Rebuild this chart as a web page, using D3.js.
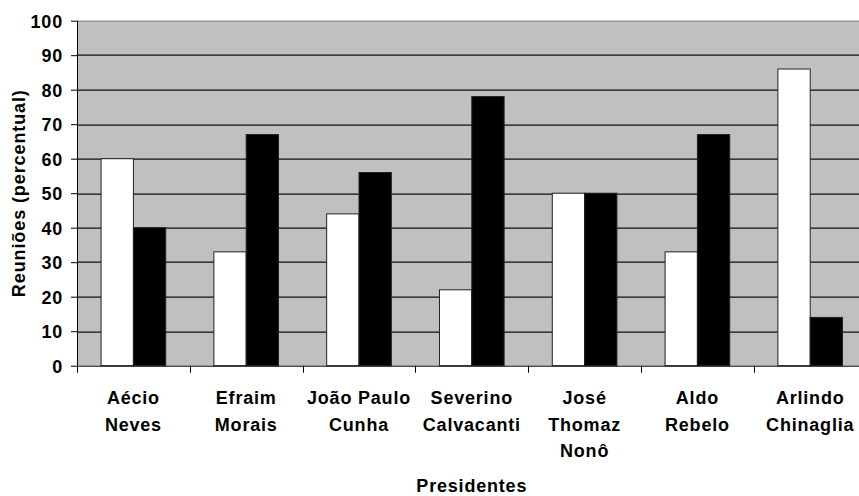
<!DOCTYPE html>
<html>
<head>
<meta charset="utf-8">
<script src="https://cdn.jsdelivr.net/npm/d3@7"></script>
<style>
  body { margin: 0; background: #fff; }
  svg { display: block; }
  text { font-family: "Liberation Sans", Arial, sans-serif; font-weight: bold; fill: #000; }
</style>
</head>
<body>
<svg width="859" height="496"></svg>
<script>
// reunioes por presidente, percentual

var categories = ["Aécio\nNeves", "Efraim\nMorais", "João Paulo\nCunha", "Severino\nCalvacanti",
                  "José\nThomaz\nNonô", "Aldo\nRebelo", "Arlindo\nChinaglia"];
var seriesWhite = [60, 33, 44, 22, 50, 33, 86];
var seriesBlack = [40, 67, 56, 78, 50, 67, 14];
var yTicks = [0, 10, 20, 30, 40, 50, 60, 70, 80, 90, 100];
var xTitle = "Presidentes";
var yTitle = "Reuniões (percentual)";

var svg = d3.select("svg"),
  margin = { top: 20.7, left: 77, bottom: 130.3 },
  width = 789.6,
  height = 496 - margin.top - margin.bottom,
  g = svg.append("g").attr("transform", "translate(" + margin.left + "," + margin.top + ")");

var data = categories.map(function (c, i) {
  return { name: c, white: seriesWhite[i], black: seriesBlack[i] };
});

var x = d3.scaleBand()
  .domain(categories)
  .range([0, width])
  .padding(0);

var xSub = d3.scaleBand()
  .domain(["white", "black"])
  .range([0, x.bandwidth()])
  .paddingInner(0)
  .paddingOuter(0.745);

var y = d3.scaleLinear()
  .domain([0, 100])
  .range([height, 0]);

// plot background
g.append("rect")
  .attr("width", width)
  .attr("height", height)
  .attr("fill", "#c0c0c0");

// gridlines
g.append("g")
  .selectAll("line")
  .data(yTicks.slice(1, -1))
  .enter().append("line")
  .attr("x1", 0)
  .attr("x2", width)
  .attr("y1", function (d) { return Math.round(y(d)) + 0.5; })
  .attr("y2", function (d) { return Math.round(y(d)) + 0.5; })
  .attr("stroke", "#111")
  .attr("stroke-width", 1.2);

// top border
g.append("line")
  .attr("x1", 0).attr("x2", width)
  .attr("y1", 0.5).attr("y2", 0.5)
  .attr("stroke", "#808080");

// bars
var groups = g.selectAll(".cat")
  .data(data)
  .enter().append("g")
  .attr("class", "cat")
  .attr("transform", function (d) { return "translate(" + x(d.name) + ",0)"; });

groups.selectAll("rect")
  .data(function (d) { return [{ key: "white", value: d.white }, { key: "black", value: d.black }]; })
  .enter().append("rect")
  .attr("x", function (d) { return xSub(d.key); })
  .attr("y", function (d) { return y(d.value); })
  .attr("width", xSub.bandwidth())
  .attr("height", function (d) { return height - y(d.value); })
  .attr("fill", function (d) { return d.key === "white" ? "#fff" : "#000"; })
  .attr("stroke", "#222")
  .attr("stroke-width", 1);

// y axis
var yAxis = g.append("g")
  .attr("class", "y axis")
  .call(d3.axisLeft(y).tickValues(yTicks).tickSize(6).tickPadding(8));
yAxis.select(".domain").attr("stroke", "#000").attr("d", "M0.5," + height + "V0");
yAxis.selectAll(".tick line").attr("stroke", "#000");
yAxis.selectAll(".tick text")
  .attr("font-size", 18)
  .attr("letter-spacing", "0.8px")
  .attr("dy", "0.36em");

// x axis
var xAxis = g.append("g")
  .attr("class", "x axis")
  .attr("transform", "translate(0," + height + ")");
xAxis.append("line")
  .attr("x1", 0).attr("x2", width)
  .attr("y1", 0.5).attr("y2", 0.5)
  .attr("stroke", "#000");
xAxis.selectAll(".xtick")
  .data(categories)
  .enter().append("line")
  .attr("x1", function (d) { return Math.round(x(d)) + 0.5; })
  .attr("x2", function (d) { return Math.round(x(d)) + 0.5; })
  .attr("y1", 0)
  .attr("y2", 7)
  .attr("stroke", "#000");

xAxis.selectAll(".label")
  .data(categories)
  .enter().append("text")
  .attr("class", "label")
  .attr("text-anchor", "middle")
  .attr("font-size", 18)
  .attr("letter-spacing", "0.8px")
  .attr("transform", function (d) { return "translate(" + (x(d) + x.bandwidth() / 2) + ",0)"; })
  .each(function (d) {
    var t = d3.select(this);
    d.split("\n").forEach(function (line, i) {
      t.append("tspan")
        .attr("x", 0)
        .attr("y", 38.5 + i * 26.5)
        .text(line);
    });
  });

// axis titles
svg.append("text")
  .attr("text-anchor", "middle")
  .attr("font-size", 18)
  .attr("letter-spacing", "0.8px")
  .attr("x", margin.left + width / 2)
  .attr("y", 492)
  .text(xTitle);

svg.append("text")
  .attr("text-anchor", "middle")
  .attr("font-size", 18)
  .attr("letter-spacing", "0.9px")
  .attr("transform", "translate(25," + (margin.top + height / 2) + ") rotate(-90)")
  .text(yTitle);
</script>
</body>
</html>
